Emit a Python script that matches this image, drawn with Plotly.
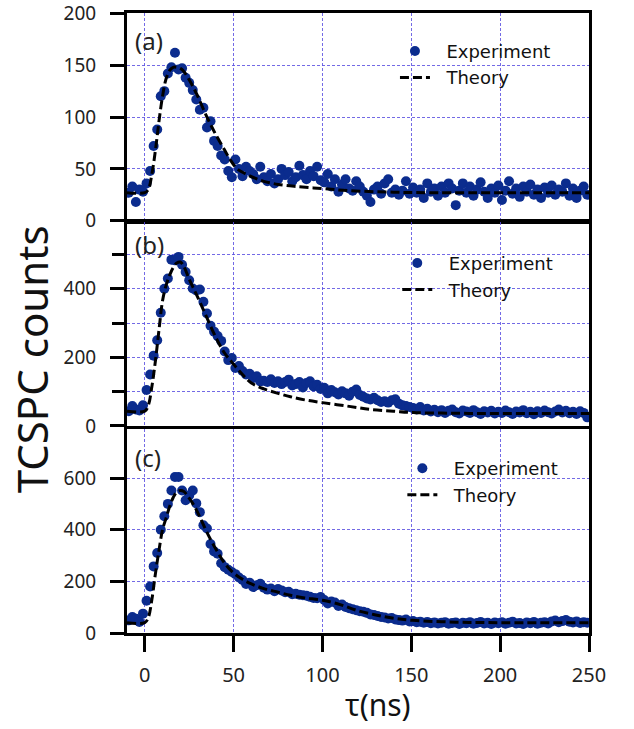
import plotly.graph_objects as go

# ---------------- data ----------------
time_ns = [-9, -7, -5, -3, -1,
           1, 3, 5, 7, 9, 11, 13, 15, 17, 19, 21, 23, 25, 27, 29, 31, 33, 35, 37, 39, 41, 43, 45, 47, 49,
           51, 53, 55, 57, 59, 61, 63, 65, 67, 69, 71, 73, 75, 77, 79, 81, 83, 85, 87, 89, 91, 93, 95, 97, 99,
           101, 103, 105, 107, 109, 111, 113, 115, 117, 119, 121, 123, 125, 127, 129, 131, 133, 135, 137, 139,
           141, 143, 145, 147, 149,
           151, 153, 155, 157, 159, 161, 163, 165, 167, 169, 171, 173, 175, 177, 179, 181, 183, 185, 187, 189,
           191, 193, 195, 197, 199,
           201, 203, 205, 207, 209, 211, 213, 215, 217, 219, 221, 223, 225, 227, 229, 231, 233, 235, 237, 239,
           241, 243, 245, 247, 249]

counts_a = [27, 33, 18, 30, 28,
            36, 48, 72, 88, 120, 125, 142, 148, 162, 146, 147, 138, 133, 126, 117, 107, 109, 90, 96, 77, 72, 63, 59, 48, 42,
            59, 50, 43, 52, 48, 45, 40, 52, 42, 38, 45, 36, 40, 50, 44, 47, 38, 42, 53, 44, 40, 48, 43, 52, 39,
            37, 45, 33, 40, 28, 35, 40, 31, 29, 38, 33, 28, 24, 18, 30, 33, 26, 36, 40, 27, 30, 25, 29, 38, 26,
            32, 27, 30, 22, 36, 28, 31, 24, 33, 27, 36, 31, 15, 29, 36, 27, 33, 24, 30, 37, 28, 22, 31, 27, 34,
            20, 29, 38, 26, 31, 23, 33, 28, 35, 25, 30, 22, 32, 27, 34, 25, 30, 28, 36, 24, 31, 22, 29, 33, 25]

counts_b = [43, 58, 48, 45, 60,
            105, 150, 205, 250, 330, 400, 430, 485, 483, 493, 470, 449, 425, 401, 395, 398, 362, 328, 292, 275, 262, 248, 217, 192, 198,
            169, 175, 160, 150, 152, 140, 145, 130, 132, 128, 136, 125, 130, 122, 128, 135, 118, 122, 128, 112, 125, 130, 115, 120, 108,
            111, 95, 105, 98, 92, 101, 95, 88, 100, 106, 90, 85, 80, 77, 82, 75, 70, 72, 68, 75, 78, 65, 60, 58, 55,
            52, 48, 55, 45, 50, 42, 47, 40, 46, 38, 44, 48, 40, 36, 45, 42, 38, 46, 40, 35, 43, 39, 44, 36, 41,
            38, 45, 40, 35, 42, 39, 46, 37, 41, 34, 43, 38, 45, 40, 36, 42, 48, 39, 44, 37, 41, 35, 43, 38, 25]

counts_c = [49, 62, 55, 43, 75,
            125, 180, 258, 310, 400, 452, 500, 552, 604, 604, 552, 514, 533, 552, 502, 468, 417, 405, 345, 316, 307, 270, 255, 245, 236,
            228, 215, 205, 190, 195, 178, 185, 191, 175, 168, 172, 162, 170, 165, 158, 160, 150, 152, 148, 146, 144, 140, 136, 135, 139,
            128, 114, 122, 118, 105, 110, 101, 96, 92, 88, 84, 82, 78, 72, 70, 66, 62, 60, 56, 58, 52, 50, 48, 52, 45,
            46, 42, 44, 40, 43, 38, 41, 37, 40, 42, 36, 39, 41, 35, 40, 38, 42, 36, 39, 43, 37, 40, 35, 41, 38,
            42, 36, 40, 44, 37, 39, 35, 41, 38, 43, 36, 40, 42, 37, 45, 48, 42, 46, 50, 44, 41, 45, 39, 42, 40]

theory_t_a = [-10, 0, 2, 4, 6, 8, 10, 12, 14, 16, 18, 20, 22, 25, 29, 35, 40, 45, 48, 52, 57, 62, 67, 75, 85,
              100, 115, 140, 160, 250]
theory_a = [27, 27, 30, 45, 68, 96, 120, 137, 145, 148, 148, 147, 144, 136, 123, 100, 83, 68, 59, 50, 45, 41, 38, 35, 33,
            31, 29, 27.5, 27, 27]

theory_t_b = [-10, 0, 2, 4, 6, 8, 10, 12, 14, 16, 18, 20, 22, 25, 28, 31, 35, 40, 45, 50, 55, 60, 67, 75, 82,
              90, 100, 115, 127, 140, 151, 175, 200, 250]
theory_b = [43, 43, 60, 115, 190, 280, 365, 410, 440, 462, 475, 478, 465, 428, 395, 362, 315, 258, 212, 180, 150, 125, 108, 95, 85,
            76, 68, 57, 48, 43, 39, 37, 36, 36]

theory_t_c = [-10, 0, 2, 4, 6, 8, 10, 12, 14, 16, 18, 20, 22, 25, 28, 31, 35, 40, 45, 50, 55, 60, 67, 75, 82,
              90, 100, 110, 120, 130, 140, 151, 175, 200, 250]
theory_c = [40, 40, 60, 130, 230, 320, 400, 445, 490, 525, 546, 552, 548, 522, 490, 449, 390, 325, 270, 232, 208, 190, 172, 158, 146,
            136, 127, 110, 86, 70, 57, 49, 42, 40, 40]

x_ticks = [0, 50, 100, 150, 200, 250]
panel_labels = ["(a)", "(b)", "(c)"]

# ---------------- style ----------------
FONT = "Noto Sans"
DOT = "#0b2c8e"
GRID = "rgba(90,80,225,0.85)"
NB = "\u00a0\u00a0"

fig = go.Figure()

panels = [
    (counts_a, theory_t_a, theory_a, "x", "y", "legend"),
    (counts_b, theory_t_b, theory_b, "x2", "y2", "legend2"),
    (counts_c, theory_t_c, theory_c, "x3", "y3", "legend3"),
]
for counts, tt, th, xa, ya, lg in panels:
    fig.add_trace(go.Scatter(x=time_ns, y=counts, mode="markers", name=NB + "Experiment",
                             marker=dict(size=10, color=DOT, line=dict(width=0)),
                             xaxis=xa, yaxis=ya, legend=lg))
    fig.add_trace(go.Scatter(x=tt, y=th, mode="lines", name=NB + "Theory", line_shape="spline",
                             line=dict(color="black", width=3, dash="9px,4px"),
                             xaxis=xa, yaxis=ya, legend=lg))

common_x = dict(range=[-10, 250], showline=True, linewidth=3, linecolor="black", mirror=True,
                showgrid=True, gridcolor=GRID, gridwidth=1, griddash="3px,2px",
                tickvals=x_ticks, zeroline=False, automargin=False)
common_y = dict(showline=True, linewidth=3, linecolor="black", mirror=True,
                showgrid=True, gridcolor=GRID, gridwidth=1, griddash="3px,2px",
                zeroline=False, ticks="outside", ticklen=14, tickwidth=3, tickcolor="black",
                tickfont=dict(family=FONT, size=19, color="#222"), ticklabelstandoff=10,
                automargin=False, ticklabeloverflow="allow")

doms = [[0.665, 1.0], [0.334, 0.663], [0.0, 0.329]]

fig.update_layout(
    xaxis=dict(**common_x, anchor="y", showticklabels=False, ticks=""),
    xaxis2=dict(**common_x, anchor="y2", matches="x", showticklabels=False, ticks=""),
    xaxis3=dict(**common_x, anchor="y3", matches="x", ticks="outside", ticklen=16, tickwidth=3,
                tickcolor="black", tickfont=dict(family=FONT, size=20, color="#222"), ticklabelstandoff=6),
    yaxis=dict(**common_y, domain=doms[0], anchor="x", range=[0, 200.4], tickvals=[0, 50, 100, 150, 200]),
    yaxis2=dict(**common_y, domain=doms[1], anchor="x2", range=[0, 595], tickvals=[0, 200, 400],
                minor=dict(tickvals=[100, 300, 500], ticks="outside", ticklen=12, tickwidth=3,
                           tickcolor="black", showgrid=True, gridcolor=GRID, gridwidth=1, griddash="3px,2px")),
    yaxis3=dict(**common_y, domain=doms[2], anchor="x3", range=[0, 790], tickvals=[0, 200, 400, 600]),
)

leg_common = dict(font=dict(family="DejaVu Sans", size=18, color="#111"), bgcolor="rgba(0,0,0,0)",
                  xanchor="left", yanchor="top", tracegroupgap=0)
fig.update_layout(
    legend=dict(**leg_common, x=0.58, y=0.968),
    legend2=dict(**leg_common, x=0.585, y=0.626),
    legend3=dict(**leg_common, x=0.596, y=0.295),
)

ann = []
for lbl, yy in zip(panel_labels, [0.955, 0.626, 0.2825]):
    ann.append(dict(text=lbl, x=0.012, y=yy, xref="paper", yref="paper", xanchor="left", yanchor="middle",
                    showarrow=False, font=dict(family=FONT, size=24, color="#222")))
ann.append(dict(text="TCSPC counts", x=-0.205, y=0.442, xref="paper", yref="paper", textangle=-90,
                xanchor="center", yanchor="middle", showarrow=False,
                font=dict(family=FONT, size=42, color="#111")))
ann.append(dict(text="τ(ns)", x=0.543, y=-0.116, xref="paper", yref="paper",
                xanchor="center", yanchor="middle", showarrow=False,
                font=dict(family=FONT, size=30, color="#111")))
fig.update_layout(annotations=ann)

fig.update_layout(width=634, height=729, margin=dict(l=127, r=45, t=13, b=96),
                  plot_bgcolor="white", paper_bgcolor="white", showlegend=True)

fig.write_html("out.html", config={"displayModeBar": False},
               post_script="document.body.style.margin='0';")
